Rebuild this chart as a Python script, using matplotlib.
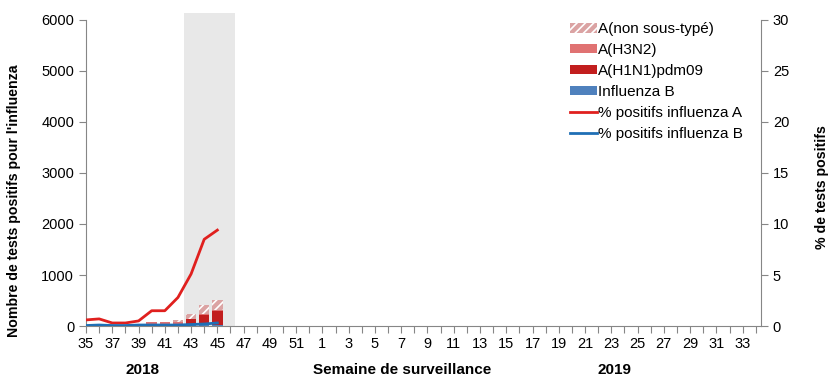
import matplotlib.pyplot as plt
import numpy as np
from matplotlib.patches import Patch, Rectangle
from matplotlib.lines import Line2D

plt.rcParams["font.family"] = ["Liberation Sans", "DejaVu Sans"]
plt.rcParams["hatch.color"] = "white"
plt.rcParams["hatch.linewidth"] = 1.2

# weeks 35..52 (2018) then 1..34 (2019)
weeks = list(range(35, 53)) + list(range(1, 35))

# counts for the weeks reported so far (35..45)
infl_b = [15, 10, 5, 5, 10, 10, 10, 10, 15, 20, 30]
h1n1 = [0, 0, 0, 0, 0, 20, 20, 35, 115, 190, 265]
h3n2 = [5, 25, 5, 5, 5, 40, 40, 30, 15, 20, 20]
non_st = [0, 0, 0, 0, 0, 0, 0, 40, 95, 180, 200]

# % positive
pct_a = [0.6, 0.7, 0.3, 0.3, 0.5, 1.5, 1.5, 2.8, 5.1, 8.5, 9.4]
pct_b = [0.05, 0.1, 0.05, 0.05, 0.1, 0.1, 0.1, 0.1, 0.15, 0.2, 0.3]

c_b = "#4F81BD"
c_h1 = "#C21E1E"
c_h3 = "#E07272"
c_nst = "#DBA3A3"
c_line_a = "#E0201E"
c_line_b = "#1F6FB5"
grey = "#868686"

fig, ax = plt.subplots(figsize=(8.4, 3.9), dpi=100)
fig.subplots_adjust(left=0.1024, right=0.906, bottom=0.164, top=0.949)

n = len(infl_b)
x = np.arange(n)
w = 0.8

# shaded period
ax.add_patch(Rectangle((7.45, 0), 3.9, 6130, facecolor="#E8E8E8",
                       edgecolor="none", zorder=0, clip_on=False))

b0 = np.zeros(n)
ax.bar(x, infl_b, w, bottom=b0, color=c_b, zorder=2)
b0 += infl_b
ax.bar(x, h1n1, w, bottom=b0, color=c_h1, zorder=2)
b0 += h1n1
ax.bar(x, h3n2, w, bottom=b0, color=c_h3, zorder=2)
b0 += h3n2
ax.bar(x, non_st, w, bottom=b0, color=c_nst, hatch="////", edgecolor="white",
       linewidth=0, zorder=2)

ax.set_xlim(0, 51.4)
ax.set_ylim(0, 6000)
ax.set_yticks(range(0, 6001, 1000))
ax.set_xticks(range(len(weeks)))
ax.set_xticklabels([str(wk) if i % 2 == 0 else "" for i, wk in enumerate(weeks)])
ax.tick_params(axis="both", labelsize=10.5, color=grey, length=5, width=0.8)
ax.tick_params(axis="x", pad=3)
for s in ["top", "right"]:
    ax.spines[s].set_visible(False)
for s in ["left", "bottom"]:
    ax.spines[s].set_color(grey)
ax.set_ylabel("Nombre de tests positifs pour l'influenza", fontsize=10.2,
              fontweight="bold")
ax.yaxis.set_label_coords(-0.097, 0.41)

ax2 = ax.twinx()
ax2.plot(x, pct_a, color=c_line_a, lw=2, zorder=3)
ax2.plot(x, pct_b, color=c_line_b, lw=2, zorder=3)
ax2.set_ylim(0, 30)
ax2.set_yticks(range(0, 31, 5))
ax2.tick_params(axis="y", labelsize=10.5, color=grey, length=5, width=0.8)
for s in ["top", "left", "bottom"]:
    ax2.spines[s].set_visible(False)
ax2.spines["right"].set_color(grey)
ax2.set_ylabel("% de tests positifs", fontsize=10.2, fontweight="bold")
ax2.yaxis.set_label_coords(1.080, 0.454)

fig.text(143 / 840, 1 - 370 / 390, "2018", fontsize=11, fontweight="bold",
         ha="center", va="center")
fig.text(402 / 840, 1 - 370 / 390, "Semaine de surveillance", fontsize=11,
         fontweight="bold", ha="center", va="center")
fig.text(614 / 840, 1 - 370 / 390, "2019", fontsize=11, fontweight="bold",
         ha="center", va="center")

handles = [
    Patch(facecolor=c_nst, hatch="////", edgecolor="white", linewidth=0),
    Patch(facecolor=c_h3),
    Patch(facecolor=c_h1),
    Patch(facecolor=c_b),
    Line2D([], [], color=c_line_a, lw=2),
    Line2D([], [], color=c_line_b, lw=2),
]
labels = ["A(non sous-typé)", "A(H3N2)", "A(H1N1)pdm09", "Influenza B",
          "% positifs influenza A", "% positifs influenza B"]
ax2.legend(handles, labels, loc="upper left", bbox_to_anchor=(0.717, 0.992),
           frameon=False, fontsize=11, handlelength=1.75, handleheight=0.55,
           handletextpad=0.1, labelspacing=0.45, borderaxespad=0, borderpad=0)

fig.savefig("out.png", dpi=100)
